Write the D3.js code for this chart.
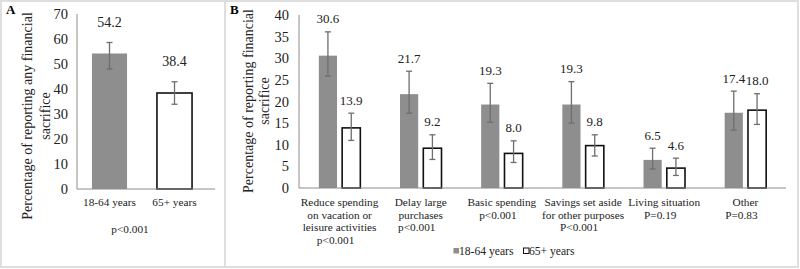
<!DOCTYPE html>
<html>
<head>
<meta charset="utf-8">
<script src="https://cdn.jsdelivr.net/npm/d3@7"></script>
<style>
  body { margin: 0; background: #fff; }
  svg { display: block; font-family: "Liberation Serif", "Times New Roman", serif; }
</style>
</head>
<body>
<svg id="chart"></svg>
<script>
// Panel A data
const groupsA = ["18-64 years", "65+ years"];
const valuesA = [54.2, 38.4];
const errLowA = [48.0, 33.9];
const errHighA = [58.6, 42.9];
const ticksA = [0, 10, 20, 30, 40, 50, 60, 70];

// Panel B data
const categoriesB = [
  ["Reduce spending", "on vacation or", "leisure activities", "p<0.001"],
  ["Delay large", "purchases", "p<0.001"],
  ["Basic spending", "p<0.001"],
  ["Savings set aside", "for other purposes", "P<0.001"],
  ["Living situation", "P=0.19"],
  ["Other", "P=0.83"]
];
const youngB = [30.6, 21.7, 19.3, 19.3, 6.5, 17.4];
const youngLowB = [25.9, 17.3, 15.2, 15.0, 4.4, 13.4];
const youngHighB = [36.1, 27.0, 24.2, 24.6, 9.2, 22.4];
const oldB = [13.9, 9.2, 8.0, 9.8, 4.6, 18.0];
const oldLowB = [11.0, 6.6, 5.9, 7.4, 2.9, 14.7];
const oldHighB = [17.3, 12.3, 10.9, 12.3, 6.9, 21.8];
const ticksB = [0, 5, 10, 15, 20, 25, 30, 35, 40];

const width = 800, height = 269;
const grayFill = "#8e8e8e";
const errColor = "#6e6e6e";
const axisColor = "#8c8c8c";

const svg = d3.select("#chart")
  .attr("width", width)
  .attr("height", height);

// Panel frames
svg.append("rect")
  .attr("x", 1).attr("y", 1)
  .attr("width", 797).attr("height", 266)
  .attr("fill", "none")
  .attr("stroke", "#dedede")
  .attr("stroke-width", 2);
svg.append("line")
  .attr("x1", 225).attr("x2", 225)
  .attr("y1", 1).attr("y2", 267)
  .attr("stroke", "#dedede")
  .attr("stroke-width", 2);

// Panel letters
svg.append("text").attr("x", 6).attr("y", 14)
  .attr("font-weight", "bold").attr("font-size", 13).text("A");
svg.append("text").attr("x", 230).attr("y", 14)
  .attr("font-weight", "bold").attr("font-size", 13).text("B");

// ---------- Panel A ----------
const yA = d3.scaleLinear().domain([0, 70]).range([189, 14]);
const xA = d3.scaleBand().domain(groupsA).range([77, 207]).paddingInner(0.46).paddingOuter(0.23);

const gA = svg.append("g");

gA.selectAll(".tickA")
  .data(ticksA)
  .join("text")
  .attr("x", 68)
  .attr("y", d => yA(d))
  .attr("text-anchor", "end")
  .attr("dominant-baseline", "central")
  .attr("font-size", 14.5)
  .attr("fill", "#222")
  .text(d => d);

gA.append("line")
  .attr("x1", 77).attr("x2", 77)
  .attr("y1", yA(70)).attr("y2", yA(0))
  .attr("stroke", axisColor);

gA.selectAll(".barA")
  .data(valuesA)
  .join("rect")
  .attr("x", (d, i) => xA(groupsA[i]))
  .attr("y", d => yA(d))
  .attr("width", xA.bandwidth())
  .attr("height", d => yA(0) - yA(d))
  .attr("fill", (d, i) => i === 0 ? grayFill : "#fff")
  .attr("stroke", (d, i) => i === 0 ? "none" : "#111")
  .attr("stroke-width", 1.6);

gA.append("line")
  .attr("x1", 77).attr("x2", 215)
  .attr("y1", yA(0)).attr("y2", yA(0))
  .attr("stroke", axisColor);

// error bars A
const errA = gA.selectAll(".errA")
  .data(valuesA)
  .join("g")
  .attr("transform", (d, i) => `translate(${xA(groupsA[i]) + xA.bandwidth() / 2},0)`);
errA.append("line")
  .attr("y1", (d, i) => yA(errLowA[i])).attr("y2", (d, i) => yA(errHighA[i]))
  .attr("stroke", errColor).attr("stroke-width", 1.3);
errA.append("line")
  .attr("x1", -3).attr("x2", 3)
  .attr("y1", (d, i) => yA(errLowA[i])).attr("y2", (d, i) => yA(errLowA[i]))
  .attr("stroke", errColor).attr("stroke-width", 1.3);
errA.append("line")
  .attr("x1", -3).attr("x2", 3)
  .attr("y1", (d, i) => yA(errHighA[i])).attr("y2", (d, i) => yA(errHighA[i]))
  .attr("stroke", errColor).attr("stroke-width", 1.3);
errA.append("text")
  .attr("y", (d, i) => yA(errHighA[i]) - 20)
  .attr("text-anchor", "middle")
  .attr("dominant-baseline", "central")
  .attr("font-size", 14)
  .attr("fill", "#222")
  .text(d => d.toFixed(1));

gA.selectAll(".labA")
  .data(groupsA)
  .join("text")
  .attr("x", d => xA(d) + xA.bandwidth() / 2)
  .attr("y", 202)
  .attr("text-anchor", "middle")
  .attr("dominant-baseline", "central")
  .attr("font-size", 11.3)
  .attr("fill", "#222")
  .text(d => d);

gA.append("text")
  .attr("x", 130).attr("y", 229)
  .attr("text-anchor", "middle")
  .attr("dominant-baseline", "central")
  .attr("font-size", 11.3)
  .attr("fill", "#222")
  .text("p<0.001");

const titleA = gA.append("text")
  .attr("transform", "translate(27,116) rotate(-90)")
  .attr("text-anchor", "middle")
  .attr("font-size", 14)
  .attr("fill", "#222");
titleA.append("tspan").attr("x", 0).attr("dy", "0.35em").text("Percentage of reporting any financial");
titleA.append("tspan").attr("x", 0).attr("dy", 18).text("sacrifice");

// ---------- Panel B ----------
const yB = d3.scaleLinear().domain([0, 40]).range([188, 15]);
const xB = d3.scaleBand().domain(d3.range(categoriesB.length)).range([299, 786]);
const xSub = d3.scaleBand().domain(["young", "old"]).range([-20.75, 20.75]).paddingInner(0.22);

const gB = svg.append("g");

gB.selectAll(".tickB")
  .data(ticksB)
  .join("text")
  .attr("x", 289)
  .attr("y", d => yB(d))
  .attr("text-anchor", "end")
  .attr("dominant-baseline", "central")
  .attr("font-size", 14.5)
  .attr("fill", "#222")
  .text(d => d);

gB.append("line")
  .attr("x1", 299).attr("x2", 299)
  .attr("y1", yB(40)).attr("y2", yB(0))
  .attr("stroke", axisColor);

const series = [
  { key: "young", vals: youngB, lo: youngLowB, hi: youngHighB, fill: grayFill, stroke: "none" },
  { key: "old", vals: oldB, lo: oldLowB, hi: oldHighB, fill: "#fff", stroke: "#111" }
];

series.forEach(s => {
  const g = gB.selectAll(".bar-" + s.key)
    .data(s.vals)
    .join("g")
    .attr("transform", (d, i) => `translate(${xB(i) + xB.bandwidth() / 2 + xSub(s.key)},0)`);
  g.append("rect")
    .attr("y", d => yB(d))
    .attr("width", xSub.bandwidth())
    .attr("height", d => yB(0) - yB(d))
    .attr("fill", s.fill)
    .attr("stroke", s.stroke)
    .attr("stroke-width", 1.6);
});

gB.append("line")
  .attr("x1", 299).attr("x2", 786)
  .attr("y1", yB(0)).attr("y2", yB(0))
  .attr("stroke", axisColor);

series.forEach(s => {
  const e = gB.selectAll(".err-" + s.key)
    .data(s.vals)
    .join("g")
    .attr("transform", (d, i) => `translate(${xB(i) + xB.bandwidth() / 2 + xSub(s.key) + xSub.bandwidth() / 2},0)`);
  e.append("line")
    .attr("y1", (d, i) => yB(s.lo[i])).attr("y2", (d, i) => yB(s.hi[i]))
    .attr("stroke", errColor).attr("stroke-width", 1.3);
  e.append("line")
    .attr("x1", -3).attr("x2", 3)
    .attr("y1", (d, i) => yB(s.lo[i])).attr("y2", (d, i) => yB(s.lo[i]))
    .attr("stroke", errColor).attr("stroke-width", 1.3);
  e.append("line")
    .attr("x1", -3).attr("x2", 3)
    .attr("y1", (d, i) => yB(s.hi[i])).attr("y2", (d, i) => yB(s.hi[i]))
    .attr("stroke", errColor).attr("stroke-width", 1.3);
  e.append("text")
    .attr("y", (d, i) => yB(s.hi[i]) - 13)
    .attr("text-anchor", "middle")
    .attr("dominant-baseline", "central")
    .attr("font-size", 13)
    .attr("fill", "#222")
    .text(d => d.toFixed(1));
});

// category labels
const cat = gB.selectAll(".catB")
  .data(categoriesB)
  .join("text")
  .attr("text-anchor", "middle")
  .attr("font-size", 11.3)
  .attr("fill", "#222");
cat.selectAll("tspan")
  .data((d, i) => d.map((line, j) => ({ line, j, i, last: j === d.length - 1 })))
  .join("tspan")
  .attr("x", d => xB(d.i) + xB.bandwidth() / 2 + (d.last ? -4 : 0))
  .attr("y", d => 202 + d.j * 12.7)
  .attr("dominant-baseline", "central")
  .text(d => d.line);

// y title B
const titleB = gB.append("text")
  .attr("transform", "translate(248,101) rotate(-90)")
  .attr("text-anchor", "middle")
  .attr("font-size", 14)
  .attr("fill", "#222");
titleB.append("tspan").attr("x", 0).attr("dy", "0.35em").text("Percentage of reporting financial");
titleB.append("tspan").attr("x", 0).attr("dy", 16).text("sacrifice");

// legend
const legendItems = [
  { label: "18-64 years", fill: grayFill, stroke: "none", x: 453 },
  { label: "65+ years", fill: "#fff", stroke: "#111", x: 523 }
];
const lg = gB.selectAll(".legend")
  .data(legendItems)
  .join("g")
  .attr("transform", d => `translate(${d.x},251)`);
lg.append("rect")
  .attr("x", 0.5).attr("y", -3)
  .attr("width", 5.5).attr("height", 5.5)
  .attr("fill", d => d.fill)
  .attr("stroke", d => d.stroke)
  .attr("stroke-width", 1);
lg.append("text")
  .attr("x", 6)
  .attr("dominant-baseline", "central")
  .attr("font-size", 11.6)
  .attr("fill", "#222")
  .text(d => d.label);
</script>
</body>
</html>
